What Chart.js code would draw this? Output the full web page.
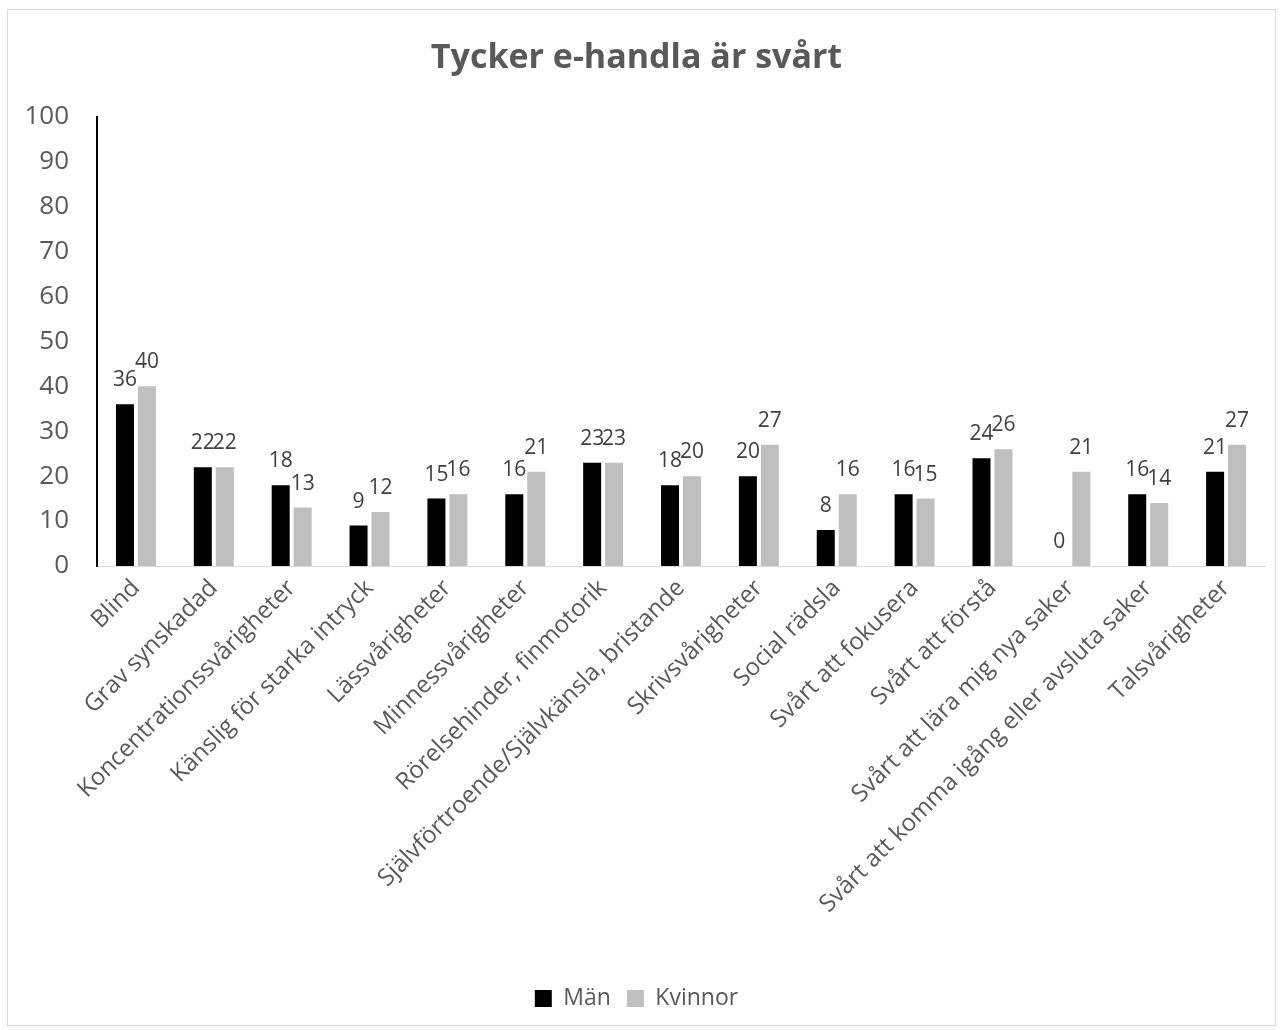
<!DOCTYPE html>
<html>
<head>
<meta charset="utf-8">
<script src="https://cdn.jsdelivr.net/npm/chart.js@4"></script>
<style>
  body { margin: 0; background: #fff; }
  #chart { position: absolute; left: 8px; top: 10px; outline: 1px solid #d9d9d9; }
</style>
</head>
<body>
<canvas id="chart" width="1267" height="1015"></canvas>
<script>
const categories = [
    "Blind",
    "Grav synskadad",
    "Koncentrationssvårigheter",
    "Känslig för starka intryck",
    "Lässvårigheter",
    "Minnessvårigheter",
    "Rörelsehinder, finmotorik",
    "Självförtroende/Självkänsla, bristande",
    "Skrivsvårigheter",
    "Social rädsla",
    "Svårt att fokusera",
    "Svårt att förstå",
    "Svårt att lära mig nya saker",
    "Svårt att komma igång eller avsluta saker",
    "Talsvårigheter",
];
const manValues = [36, 22, 18, 9, 15, 16, 23, 18, 20, 8, 16, 24, 0, 16, 21];
const kvinnorValues = [40, 22, 13, 12, 16, 21, 23, 20, 27, 16, 15, 26, 21, 14, 27];
const yTicks = [0, 10, 20, 30, 40, 50, 60, 70, 80, 90, 100];

const fontFamily = "'Open Sans', 'Noto Sans', sans-serif";

// skriver ut värdet ovanför varje stapel
const valueLabels = {
    id: "valueLabels",
    afterDatasetsDraw(chart) {
        const ctx = chart.ctx;
        ctx.save();
        ctx.font = "21px " + fontFamily;
        ctx.fillStyle = "#404040";
        ctx.textAlign = "center";
        ctx.textBaseline = "middle";
        chart.data.datasets.forEach((ds, i) => {
            const meta = chart.getDatasetMeta(i);
            meta.data.forEach((bar, j) => {
                ctx.fillText(String(ds.data[j]), bar.x, bar.y - 24);
            });
        });
        ctx.restore();
    },
};

new Chart(document.getElementById("chart"), {
    type: "bar",
    data: {
        labels: categories,
        datasets: [
            {
                label: "Män",
                data: manValues,
                backgroundColor: "#000000",
                categoryPercentage: 0.564,
                barPercentage: 0.82,
            },
            {
                label: "Kvinnor",
                data: kvinnorValues,
                backgroundColor: "#bfbfbf",
                categoryPercentage: 0.564,
                barPercentage: 0.82,
            },
        ],
    },
    options: {
        responsive: false,
        animation: false,
        layout: { padding: { left: 0, right: 10, top: 0, bottom: 5 } },
        plugins: {
            tooltip: { enabled: false },
            title: {
                display: true,
                text: "Tycker e-handla är svårt",
                color: "#595959",
                font: { family: fontFamily, size: 34, weight: "bold" },
                padding: { top: 28, bottom: 38 },
            },
            legend: {
                position: "bottom",
                labels: {
                    boxWidth: 17,
                    boxHeight: 17,
                    padding: 16,
                    color: "#595959",
                    font: { family: fontFamily, size: 23 },
                },
            },
        },
        scales: {
            x: {
                grid: { display: false, drawTicks: false },
                border: { display: true, color: "#d9d9d9", width: 1 },
                ticks: {
                    color: "#595959",
                    font: { family: fontFamily, size: 24 },
                    maxRotation: 45,
                    minRotation: 45,
                    padding: 8,
                    autoSkip: false,
                },
                afterFit: (scale) => { scale.height = 405; },
            },
            y: {
                min: 0,
                max: 100,
                grid: { display: false, drawTicks: false },
                border: { display: true, color: "#000000", width: 2 },
                afterBuildTicks: (scale) => {
                    scale.ticks = yTicks.map((v) => ({ value: v }));
                },
                ticks: {
                    color: "#595959",
                    font: { family: fontFamily, size: 26 },
                    padding: 28,
                },
                afterFit: (scale) => { scale.width = 89; },
            },
        },
    },
    plugins: [valueLabels],
});
</script>
</body>
</html>
